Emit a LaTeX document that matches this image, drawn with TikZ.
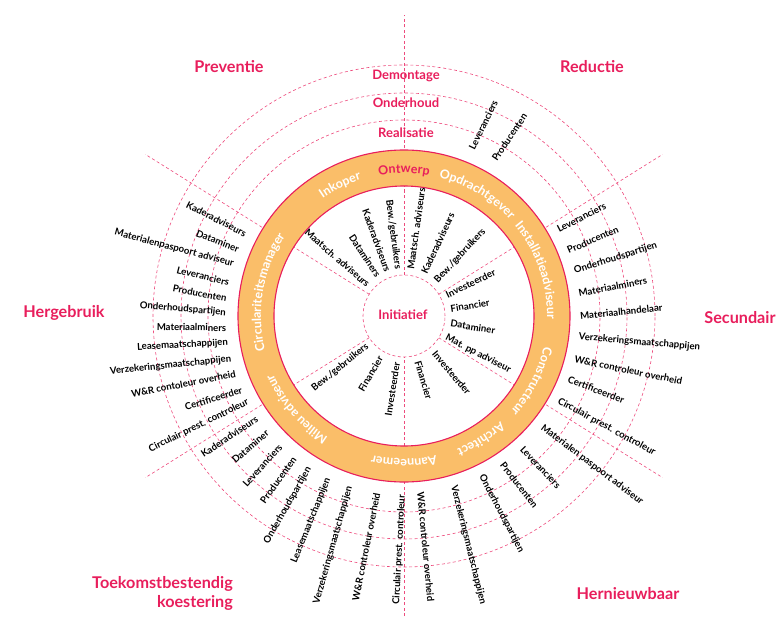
\documentclass[tikz,border=0pt]{standalone}
\usepackage{fontspec}
\setmainfont{Lato}
\usetikzlibrary{decorations.text}

\definecolor{roze}{RGB}{232,30,92}
\definecolor{oranje}{RGB}{250,190,105}
\newcommand\ringfont{\fontsize{12.5}{13}\selectfont\bfseries\color{white}}
\newcommand\ontwerpfont{\fontsize{12.5}{13}\selectfont\bfseries\color{roze}}

\tikzset{
  streep/.style={roze!80, line width=0.6pt, dash pattern=on 3pt off 2.5pt},
  rol/.style={font=\fontsize{9.6}{10}\selectfont\bfseries, inner sep=0pt},
  kop/.style={font=\fontsize{16.2}{19}\selectfont\bfseries, text=roze, inner sep=0pt},
  fase/.style={font=\fontsize{13}{14}\selectfont\bfseries, text=roze, inner sep=0pt},
  ringtekst/.style={decorate, decoration={text along path, text align=center, text={|\ringfont|#1}}},
}

\begin{document}
\begin{tikzpicture}[x=1pt,y=1pt]
\useasboundingbox (-404,-300) rectangle (374,316);

% fasen (cirkels) en sectoren
\foreach \r in {196,223,251} \draw[streep] (0,0) circle(\r);
\draw[streep] (0,-300) -- (0,301);
\foreach \a in {32,148,212,328} \draw[streep] (\a:41) -- (\a:305);

% ring met rollen
\draw[roze, line width=1.1pt, fill=oranje, even odd rule] (0,0) circle(166) (0,0) circle(130);
\draw[streep, fill=white] (0,0) circle(41);

\path[decorate, decoration={text along path, text align=center, text={|\ontwerpfont|Ontwerp}}] (130:143) arc[start angle=130, end angle=50, radius=143];
\path[ringtekst=Inkoper] (156:143) arc[start angle=156, end angle=76, radius=143];
\path[ringtekst=Opdrachtgever] (104:143) arc[start angle=104, end angle=14, radius=143];
\path[ringtekst=Installatieadviseur] (69:143) arc[start angle=69, end angle=-31, radius=143];
\path[ringtekst=Constructeur] (23:143) arc[start angle=23, end angle=-77, radius=143];
\path[ringtekst=Architect] (-13:143) arc[start angle=-13, end angle=-103, radius=143];
\path[ringtekst=Aanneemer] (-45:143) arc[start angle=-45, end angle=-135, radius=143];
\path[ringtekst=Milieu adviseur] (266:143) arc[start angle=266, end angle=176, radius=143];
\path[ringtekst=Circulariteitsmanager] (225:143) arc[start angle=225, end angle=115, radius=143];

\node[fase] (initiatief) at (-1,1) {Initiatief};
\node[fase] (realisatie) at (2,183) {Realisatie};
\node[fase] (onderhoud) at (2,213) {Onderhoud};
\node[fase] (demontage) at (2,240) {Demontage};

% binnen de ring
\foreach \a/\t [count=\i] in {82/{Maatsch. adviseurs}, 65/Kaderadviseurs, 47/{Bew./gebruikers}, 26/Investeerder, 9/Financier, -9/Dataminer, -27/{Mat. pp adviseur}, -50/Investeerder, -73/Financier}
  \node[rol, anchor=west, rotate=\a] (br\i) at (\a:47) {\t};
\foreach \a/\t [count=\i] in {97.5/{Bew./gebruikers}, 110/Kaderadviseurs, 123/Dataminers, 139/{Maatsch. adviseurs}, 219/{Bew./gebruikers}, 240/Financier, 261/Investeerder}
  \node[rol, anchor=east, rotate=\a-180] (bl\i) at (\a:47) {\t};

% buiten de ring
\foreach \p/\d/\t [count=\i] in {68/64/Leveranciers, 60/56/Producenten}
  \node[rol, anchor=west, rotate=\d] (red\i) at (\p:180) {\t};
\foreach \p/\d/\t [count=\i] in {29.3/27.4/Leveranciers, 21.8/23/Producenten, 14.7/17.6/Onderhoudspartijen, 7.4/11/Materiaalminers, 0/6/Materiaalhandelaar, -6.8/-5/Verzekeringsmaatschappijen, -14.3/-11.4/W\&R controleur overheid, -21/-20.8/Certificeerder, -28.7/-28.6/Circulair prest. controleur}
  \node[rol, anchor=west, rotate=\d] (sec\i) at (\p:176) {\t};
\foreach \p/\d/\t [count=\i] in {-38.8/-37/Materialen paspoort adviseur, -48.2/-46.4/Leveranciers, -56.3/-52/Producenten, -64.1/-62.3/Onderhoudspartijen, -73.7/-76/Verzekeringsmaatschappijen, -84.6/-84.6/W\&R controleur overheid}
  \node[rol, anchor=west, rotate=\d] (her\i) at (\p:177) {\t};
\foreach \p/\d/\t [count=\i] in {152.6/-27/Kaderadviseurs, 158/-21/Dataminer, 163/-15/Materialenpaspoort adviseur, 169.2/-14/Leveranciers, 174.3/-11/Producenten, 179/-5/Onderhoudspartijen, 183.8/-1/Materiaalminers, 188.6/3/Leasemaatschappijen, 194/6/Verzekeringsmaatschappijen, 199/11/W\&R contoleur overheid, 204.5/17/Certificeerder, 208.8/26/Circulair prest. controleur}
  \node[rol, anchor=east, rotate=\d] (hg\i) at (\p:178) {\t};
\foreach \p/\d/\t [count=\i] in {214.8/33.7/Kaderadviseurs, 220.3/40.8/Dataminer, 226.4/47.8/Leveranciers, 232.2/54.5/Producenten, 238/60.3/Onderhoudspartijen, 244.9/68/Leasemaatschappijen, 252.3/74.2/Verzekeringsmaatschappijen, 261.3/78.7/W\&R controleur overheid, 269.4/87/Circulair prest. controleur}
  \node[rol, anchor=east, rotate=\d] (tk\i) at (\p:179) {\t};

% sectoren
\node[kop] (preventie) at (-175,249) {Preventie};
\node[kop] (reductie) at (188,249) {Reductie};
\node[kop] (hergebruik) at (-340,3) {Hergebruik};
\node[kop] (secundair) at (336,-2) {Secundair};
\node[kop, anchor=east, align=right] (toekomst) at (-171,-277) {Toekomstbestendig\\koestering};
\node[kop] (hernieuwbaar) at (224,-278) {Hernieuwbaar};
\end{tikzpicture}
\end{document}
